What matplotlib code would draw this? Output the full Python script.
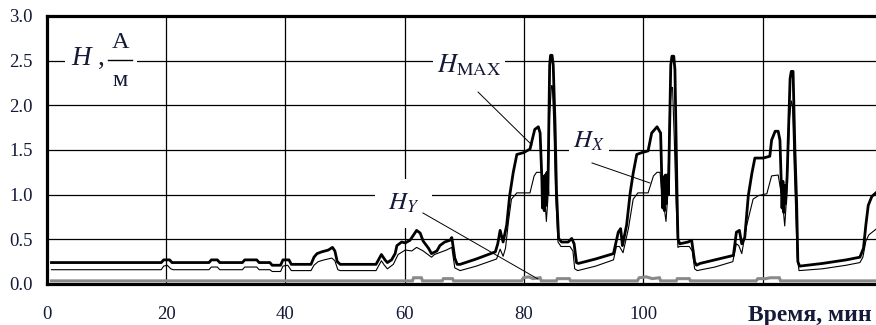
import matplotlib
matplotlib.use("Agg")
import matplotlib.pyplot as plt
from matplotlib.patches import Rectangle

plt.rcParams["mathtext.fontset"] = "stix"
plt.rcParams["font.family"] = ["Liberation Serif", "DejaVu Serif"]

# ---- data: field strength vs time ----
t_max = [0.8, 19.2, 19.6, 20.6, 21.0, 27.2, 27.6, 28.6, 29.0, 32.8, 33.2, 35.2, 35.6,
         37.4, 37.8, 39.2, 39.6, 40.6, 41.0, 44.3, 44.8, 45.3, 46.1, 47.2, 47.9, 48.3,
         48.7, 49.2, 55.2, 55.6, 56.1, 56.7, 57.1, 57.8, 58.4, 58.7, 59.5, 60.1, 60.9,
         61.4, 62.0, 62.6, 63.1, 64.0, 64.5, 65.4, 65.9, 66.7, 67.6, 67.9, 68.4, 68.8,
         69.3, 72.0, 75.2,
         75.6, 76.0, 76.5, 77.1, 77.6, 78.2, 78.8, 79.9, 81.0, 81.8, 82.4, 82.7, 83.0,
         83.1, 83.25, 83.4, 83.55, 83.7, 83.85, 84.0, 84.3, 84.45, 84.7, 84.9, 85.2,
         85.45, 85.8, 86.3, 87.4, 88.0, 88.4, 88.8, 89.1, 92.0, 95.0,
         95.8, 96.2, 96.5, 97.2, 97.8, 98.3, 98.9, 99.7, 100.8, 101.4, 102.3, 102.9,
         103.1, 103.25, 103.4, 103.55, 103.7, 103.85, 104.0, 104.2, 104.6, 104.8, 105.1,
         105.3, 105.5, 105.65, 105.8, 106.1, 107.5, 108.1, 108.6, 108.9, 109.5, 112.0,
         115.1,
         115.6, 116.1, 116.5, 117.0, 117.6, 118.2, 118.7, 120.1, 121.2, 121.5, 122.1,
         122.6, 122.9, 123.1, 123.25, 123.4, 123.55, 123.7, 123.85, 124.1, 124.6, 124.8,
         125.1, 125.4, 125.7, 125.9, 126.2, 130.0, 134.0, 136.3, 136.9, 137.3, 137.7,
         138.3, 139.5]
h_max = [0.24, 0.24, 0.27, 0.27, 0.24, 0.24, 0.27, 0.27, 0.24, 0.24, 0.27, 0.27, 0.24,
         0.24, 0.21, 0.21, 0.27, 0.27, 0.22, 0.22, 0.30, 0.34, 0.36, 0.38, 0.41, 0.37,
         0.25, 0.22, 0.22, 0.27, 0.33, 0.27, 0.24, 0.27, 0.34, 0.43, 0.47, 0.46, 0.49,
         0.54, 0.60, 0.57, 0.48, 0.40, 0.34, 0.37, 0.43, 0.47, 0.49, 0.52, 0.29, 0.22,
         0.22, 0.28, 0.36,
         0.45, 0.60, 0.47, 0.66, 0.99, 1.25, 1.45, 1.47, 1.51, 1.73, 1.76, 1.69, 1.17,
         0.85, 1.20, 0.82, 1.22, 0.88, 1.25, 1.00, 2.45, 2.56, 2.56, 2.45, 1.80,
         1.03, 0.51, 0.47, 0.47, 0.51, 0.45, 0.24, 0.23, 0.28, 0.34,
         0.58, 0.62, 0.43, 0.66, 1.02, 1.24, 1.45, 1.47, 1.49, 1.69, 1.76, 1.69,
         1.17, 0.85, 1.20, 0.82, 1.22, 0.90, 1.22, 1.00, 2.45, 2.55, 2.55,
         2.40, 1.60, 1.00, 0.51, 0.45, 0.47, 0.49, 0.25, 0.21, 0.23, 0.27,
         0.32,
         0.58, 0.60, 0.45, 0.52, 0.99, 1.24, 1.41, 1.41, 1.43, 1.61, 1.71,
         1.71, 1.61, 1.17, 0.85, 1.15, 0.80, 1.10, 0.90, 1.20, 2.30, 2.38,
         2.38, 1.52, 0.90, 0.25, 0.20, 0.23, 0.27, 0.30, 0.40, 0.66, 0.88,
         0.98, 1.05]

t_x = [0.8, 19.2, 19.6, 20.2, 20.8, 21.2, 27.2, 27.6, 28.6, 29.0, 32.8, 33.2, 35.2, 35.6,
       37.4, 37.8, 39.2, 39.6, 40.4, 41.0, 44.3, 44.8, 45.5, 46.5, 47.8, 48.3, 48.8, 49.2,
       55.2, 55.7, 56.1, 56.6, 57.1, 58.1, 58.9, 60.1, 61.2, 62.0, 63.1, 64.5, 65.0,
       67.0, 67.9, 68.4, 69.3, 72.0, 75.4, 76.0, 76.5, 76.9, 77.4, 77.9, 78.8, 81.0,
       81.7, 82.1, 83.0, 83.3, 83.45, 83.6, 83.75, 84.0, 84.3, 84.6, 84.75, 85.0, 85.3,
       85.7, 86.2, 87.7, 88.2, 88.5, 89.0, 92.0, 95.0, 95.5, 96.0, 96.6, 97.5, 98.3,
       99.1, 100.8, 101.7, 102.3, 102.8, 103.1, 103.3, 103.5, 103.8, 104.1, 104.4,
       104.7, 104.9, 105.2, 105.5, 105.8, 106.1, 107.7, 108.2, 108.6, 109.0, 112.0,
       115.0, 115.6, 116.0, 116.5, 117.3, 118.4, 119.3, 120.7, 121.5, 122.6, 123.1,
       123.3, 123.5, 123.7, 124.0, 124.5, 124.8, 125.0, 125.3, 125.6, 125.8, 126.1,
       130.0, 134.0, 136.3, 136.8, 137.3, 137.8, 139.5]
h_x = [0.16, 0.16, 0.20, 0.21, 0.17, 0.16, 0.16, 0.19, 0.19, 0.16, 0.16, 0.19, 0.19, 0.16,
       0.16, 0.14, 0.14, 0.20, 0.21, 0.15, 0.15, 0.21, 0.25, 0.27, 0.29, 0.26, 0.16, 0.15,
       0.15, 0.21, 0.26, 0.21, 0.17, 0.22, 0.33, 0.38, 0.37, 0.41, 0.37, 0.30, 0.33,
       0.38, 0.41, 0.18, 0.15, 0.20, 0.28, 0.39, 0.31, 0.40, 0.70, 0.95, 1.02, 1.02,
       1.21, 1.25, 1.25, 1.02, 1.15, 0.85, 0.70, 0.95, 1.90, 2.22, 2.22, 1.80, 1.00,
       0.47, 0.42, 0.42, 0.37, 0.17, 0.15, 0.20, 0.27, 0.42, 0.42, 0.35, 0.62, 0.95,
       1.02, 1.02, 1.21, 1.25, 1.25, 1.02, 1.12, 0.85, 0.70, 1.00, 1.90,
       2.20, 2.20, 1.60, 0.90, 0.41, 0.42, 0.42, 0.37, 0.17, 0.15, 0.19,
       0.25, 0.45, 0.43, 0.34, 0.65, 0.95, 0.99, 1.01, 1.21, 1.22, 1.02,
       1.10, 0.80, 0.65, 0.95, 1.85, 2.05, 2.00, 1.30, 0.70, 0.30, 0.15,
       0.17, 0.21, 0.24, 0.30, 0.48, 0.55, 0.64]

t_y = [0.8, 61.3, 61.5, 62.8, 63.0, 66.3, 66.5, 68.0, 68.2, 79.6, 79.9, 80.8, 81.5, 82.7,
       82.9, 85.4, 85.6, 87.6, 87.8, 99.0, 99.3, 100.5, 101.5, 102.7, 102.9, 105.5,
       105.7, 107.7, 107.9, 118.9, 119.2, 120.5, 121.3, 122.8, 123.0, 139.5]
h_y = [0.035, 0.035, 0.07, 0.07, 0.035, 0.035, 0.06, 0.06, 0.035, 0.035, 0.07, 0.08, 0.06,
       0.07, 0.035, 0.035, 0.06, 0.06, 0.035, 0.035, 0.07, 0.08, 0.06, 0.07, 0.035, 0.035,
       0.06, 0.06, 0.035, 0.035, 0.06, 0.06, 0.07, 0.07, 0.035, 0.035]

x_ticks = [0, 20, 40, 60, 80, 100, 120]
x_tick_labels = ["0", "20", "40", "60", "80", "100", ""]
y_ticks = [0.0, 0.5, 1.0, 1.5, 2.0, 2.5, 3.0]
y_tick_labels = ["0.0", "0.5", "1.0", "1.5", "2.0", "2.5", "3.0"]

TXT = "#141a38"

fig = plt.figure(figsize=(8.76, 3.25), dpi=100)
ax = fig.add_axes([46.7 / 876, 41 / 325, 1 - 46.7 / 876, 268 / 325])

ax.plot(t_y, h_y, color="#8a8a8a", lw=2.2, zorder=2, solid_joinstyle="miter")
ax.plot(t_x, h_x, color="black", lw=0.8, zorder=3)
ax.plot(t_max, h_max, color="black", lw=2.0, zorder=4)

ax.set_xlim(0, 139.0)
ax.set_ylim(0, 3.0)
ax.set_xticks(x_ticks)
ax.set_xticklabels(x_tick_labels)
ax.set_yticks(y_ticks)
ax.set_yticklabels(y_tick_labels)
ax.tick_params(axis="both", length=0, labelsize=13.5, labelcolor=TXT)
ax.tick_params(axis="x", pad=16)
ax.tick_params(axis="y", pad=10)

ax.grid(True, color="black", lw=0.9)
ax.set_axisbelow(True)
for side in ("left", "top", "bottom"):
    ax.spines[side].set_linewidth(2.3)
    ax.spines[side].set_color("black")
ax.spines["right"].set_visible(False)

# axis title at the lower right
ax.text(117.5, -0.414, "Время, мин", fontsize=17, fontweight="bold", color=TXT,
        ha="left", va="baseline", clip_on=False)

# quantity label H, A/м in the upper left corner
ax.add_patch(Rectangle((3.07, 2.38), 12.07, 0.24, facecolor="white",
                       edgecolor="none", zorder=1.5))
ax.text(4.2, 2.45, "H", fontsize=19.5, style="italic", color=TXT,
        ha="left", va="baseline", zorder=5)
ax.text(8.6, 2.45, ",", fontsize=19.5, color=TXT, ha="left", va="baseline", zorder=5)
ax.text(12.3, 2.64, "А", fontsize=17.5, color=TXT, ha="center", va="baseline", zorder=5)
ax.text(12.3, 2.216, "м", fontsize=17.5, color=TXT, ha="center", va="baseline", zorder=5)
ax.plot([10.28, 14.3], [2.502, 2.502], color="black", lw=1.0, zorder=5)

# curve labels with leader lines
box = dict(facecolor="white", edgecolor="none", pad=3)
ax.text(65.4, 2.373, r"$H_{\mathrm{MAX}}$", fontsize=19, color=TXT,
        ha="left", va="baseline", bbox=box, zorder=5)
ax.text(88.2, 1.522, r"$H_{X}$", fontsize=18, color=TXT,
        ha="left", va="baseline", bbox=box, zorder=5)
ax.text(57.2, 0.83, r"$H_{Y}$", fontsize=18, color=TXT, ha="left", va="baseline",
        bbox=dict(facecolor="white", edgecolor="none", pad=9), zorder=5)

ax.plot([72.3, 81.33], [2.149, 1.556], color="black", lw=0.7, zorder=5)
ax.plot([91.4, 101.1], [1.355, 1.131], color="black", lw=0.7, zorder=5)
ax.plot([63.06, 82.34], [0.795, 0.056], color="black", lw=0.7, zorder=5)

fig.savefig("out.png", dpi=100)
